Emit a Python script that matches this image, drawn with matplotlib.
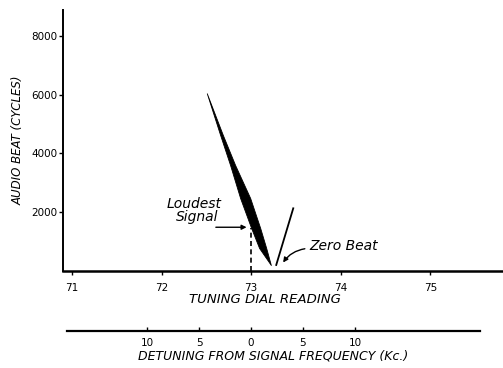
import numpy as np
import matplotlib
matplotlib.use("Agg")
import matplotlib.pyplot as plt

# dial reading vs audio beat
wedge_y = [6044, 4624, 3601, 2477, 1455, 773, 194]
wedge_left_x = [72.505, 72.654, 72.765, 72.877, 73.000, 73.089, 73.220]
wedge_right_x = [72.505, 72.684, 72.821, 72.989, 73.101, 73.168, 73.220]
upper_x = [73.28, 73.47]
upper_y = [195, 2125]
loudest_x = 73.0
loudest_y = 1465

dial_ticks = [71, 72, 73, 74, 75]
beat_ticks = [2000, 4000, 6000, 8000]
detune_ticks = [-10, -5, 0, 5, 10]
detune_labels = ["10", "5", "0", "5", "10"]

W, H = 503, 368
fig = plt.figure(figsize=(W / 100, H / 100), dpi=100)
ax = fig.add_axes([63 / W, 1 - 270.7 / H, (502 - 63) / W, (270.7 - 10) / H])

# shaded band between the two edges
ax.fill_betweenx(wedge_y, wedge_left_x, wedge_right_x, color="black", lw=0.6)
ax.plot(upper_x, upper_y, color="black", lw=1.3)
ax.plot([loudest_x, loudest_x], [0, loudest_y], color="black", lw=1.2, ls=(0, (3, 2)))

ax.set_xlim(70.9, 75.8)
ax.set_ylim(0, 8880)
ax.set_xticks(dial_ticks)
ax.set_yticks(beat_ticks)
for s in ["top", "right"]:
    ax.spines[s].set_visible(False)
ax.spines["left"].set_linewidth(1.4)
ax.spines["bottom"].set_linewidth(1.8)
ax.tick_params(labelsize=7.5, length=3, width=1, pad=6)
ax.tick_params(axis="y", pad=1)

ax.set_xlabel("TUNING DIAL READING", fontsize=9.5, style="italic", labelpad=1)
ax.xaxis.set_label_coords(0.46, -0.085)
ax.set_ylabel("AUDIO BEAT (CYCLES)", fontsize=8.5, style="italic", labelpad=5)

ax.text(72.36, 2270, "Loudest", fontsize=10, style="italic", ha="center", va="center")
ax.text(72.40, 1820, "Signal", fontsize=10, style="italic", ha="center", va="center")
ax.annotate("", xy=(72.98, 1480), xytext=(72.575, 1480),
            arrowprops=dict(arrowstyle="-|>", color="black", lw=1, mutation_scale=7))
ax.text(73.65, 850, "Zero Beat", fontsize=10, style="italic", ha="left", va="center")
ax.annotate("", xy=(73.34, 200), xytext=(73.63, 760),
            arrowprops=dict(arrowstyle="-|>", color="black", lw=1, mutation_scale=7,
                            connectionstyle="arc3,rad=0.25"))

# second scale: detuning
ax2 = fig.add_axes([67 / W, 1 - 331 / H, (480 - 67) / W, 0.02])
ax2.set_xlim((67 - 251) / 10.4, (480 - 251) / 10.4)
ax2.set_ylim(0, 1)
for s in ["top", "right", "left"]:
    ax2.spines[s].set_visible(False)
ax2.spines["bottom"].set_linewidth(1.6)
ax2.set_yticks([])
ax2.set_xticks(detune_ticks)
ax2.set_xticklabels(detune_labels)
ax2.tick_params(axis="x", direction="in", length=3, width=1, labelsize=7.5, pad=5)
ax2.patch.set_alpha(0)
ax2.set_xlabel("DETUNING FROM SIGNAL FREQUENCY (Kc.)", fontsize=9, style="italic", labelpad=1)

fig.savefig("out.png", dpi=100)
